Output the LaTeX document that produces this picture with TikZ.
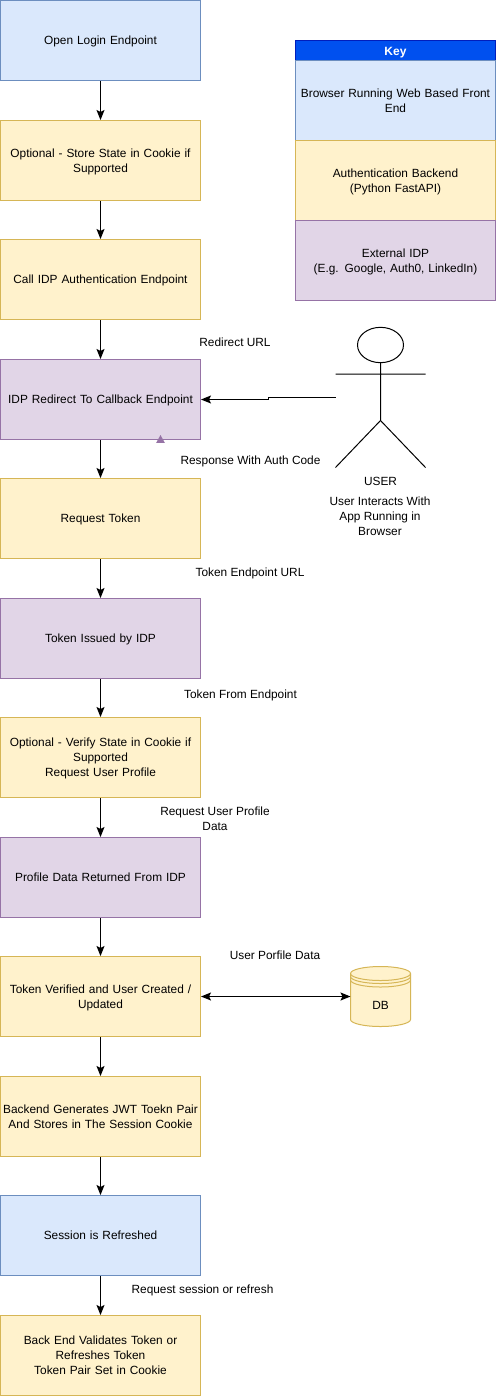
\documentclass[tikz,border=0pt]{standalone}
\usepackage{fontspec}
\setmainfont{Liberation Sans}
\usetikzlibrary{arrows.meta,shapes.geometric}
\definecolor{bluef}{HTML}{DAE8FC}\definecolor{blued}{HTML}{6C8EBF}
\definecolor{yelf}{HTML}{FFF2CC}\definecolor{yeld}{HTML}{D6B656}
\definecolor{purf}{HTML}{E1D5E7}\definecolor{purd}{HTML}{9673A6}
\definecolor{keyf}{HTML}{0050EF}\definecolor{keyd}{HTML}{001DBC}
\tikzset{
 basebox/.style={draw,line width=0.75pt,align=center,font=\fontsize{8.9}{11.25}\selectfont,text width=148pt,inner sep=0pt,minimum width=150pt,minimum height=60pt,execute at begin node={\rule{0pt}{8.4pt}},execute at end node={\rule[-2pt]{0pt}{2pt}}},
 bluebox/.style={basebox,fill=bluef,draw=blued},
 yelbox/.style={basebox,fill=yelf,draw=yeld},
 purbox/.style={basebox,fill=purf,draw=purd},
 keyhead/.style={draw=keyd,fill=keyf,line width=0.75pt,text=white,font=\fontsize{9}{11}\selectfont\bfseries,minimum width=150pt,minimum height=15pt,inner sep=0pt,text height=9pt,text depth=1.5pt},
 lbl/.style={align=center,inner sep=0pt,font=\fontsize{8.9}{11.25}\selectfont},
 flow/.style={line width=0.75pt,-{Stealth[length=7.5pt,width=6pt,inset=1.5pt]}},
 flowb/.style={line width=0.75pt,{Stealth[length=7.5pt,width=6pt,inset=1.5pt]}-{Stealth[length=7.5pt,width=6pt,inset=1.5pt]}},
 actorline/.style={line width=0.75pt,draw=black}
}
\begin{document}
\begin{tikzpicture}[x=0.75pt,y=-0.75pt]
\useasboundingbox (0,0) rectangle (496,1396);
\fill[white] (0,0) rectangle (496,1396);
% flow boxes
\node[bluebox] (n1) at (100.5,40.5) {Open Login Endpoint};
\node[yelbox] (n2) at (100.5,160.5) {Optional - Store State in Cookie if\\Supported};
\node[yelbox] (n3) at (100.5,279.5) {Call IDP Authentication Endpoint};
\node[purbox] (n4) at (100.5,399.5) {IDP Redirect To Callback Endpoint};
\node[yelbox] (n5) at (100.5,518.5) {Request Token};
\node[purbox] (n6) at (100.5,638.5) {Token Issued by IDP};
\node[yelbox] (n7) at (100.5,757.5) {Optional - Verify State in Cookie if\\Supported\\Request User Profile};
\node[purbox] (n8) at (100.5,877.5) {Profile Data Returned From IDP};
\node[yelbox] (n9) at (100.5,996.5) {Token Verified and User Created /\\Updated};
\node[yelbox] (n10) at (100.5,1116.5) {Backend Generates JWT Toekn Pair\\And Stores in The Session Cookie};
\node[bluebox] (n11) at (100.5,1235.5) {Session is Refreshed};
\node[yelbox] (n12) at (100.5,1355.5) {Back End Validates Token or\\Refreshes Token\\Token Pair Set in Cookie};
\foreach \a/\b in {n1/n2,n2/n3,n3/n4,n4/n5,n5/n6,n6/n7,n7/n8,n8/n9,n9/n10,n10/n11,n11/n12}
  \draw[flow] (\a) -- (\b);
% key
\node[keyhead] (kh) at (395.5,50.5) {Key};
\node[bluebox] (k1) at (395.5,100.5) {Browser Running Web Based Front\\End};
\node[yelbox] (k2) at (395.5,180.5) {Authentication Backend\\(Python FastAPI)};
\node[purbox] (k3) at (395.5,260.5) {External IDP\\(E.g. Google, Auth0, LinkedIn)};
% actor
\node[draw=black,line width=0.75pt,ellipse,minimum width=34.5pt,minimum height=26.5pt,inner sep=0pt] (head) at (380.5,345) {};
\coordinate (hip) at (380.5,420.5);
\coordinate (armL) at (335.5,374);
\coordinate (armR) at (425.5,374);
\coordinate (legL) at (335.5,467.5);
\coordinate (legR) at (425.5,467.5);
\coordinate (grip) at (335.5,397.5);
\draw[actorline] (head.south) -- (hip) (armL) -- (armR) (legL) -- (hip) -- (legR);
\draw[flow] (grip) -- (268,397.5) -- (268,399.5) -- (n4.east);
% stray marker
\fill[purd] (160.5,435) -- (164.8,442.8) -- (156.2,442.8) -- cycle;
% DB
\draw[draw=yeld,fill=yelf,line width=0.75pt] (350.5,973.5) -- (350.5,1019.5) arc[start angle=180,end angle=0,x radius=30,y radius=7] -- (410.5,973.5) arc[start angle=0,end angle=-180,x radius=30,y radius=7] -- cycle;
\draw[draw=yeld,line width=0.75pt] (350.5,973.5) arc[start angle=180,end angle=0,x radius=30,y radius=7]
 (350.5,976.5) arc[start angle=180,end angle=0,x radius=30,y radius=7]
 (350.5,980) arc[start angle=180,end angle=0,x radius=30,y radius=7];
\node[lbl] (db) at (380.5,1005) {DB};
\coordinate (dbl) at (350.5,996.5);
\draw[flowb] (n9.east) -- (dbl);
% labels
\node[lbl] (l1) at (235,342) {Redirect URL};
\node[lbl] (l2) at (250.5,461) {Response With Auth Code};
\node[lbl] (l3) at (250,573.5) {Token Endpoint URL};
\node[lbl] (l4) at (240.5,695.5) {Token From Endpoint};
\node[lbl] (l5) at (215,818.5) {Request User Profile\\Data};
\node[lbl] (l6) at (275,955.5) {User Porfile Data};
\node[lbl] (l7) at (202.5,1290.5) {Request session or refresh};
\node[lbl] (l8) at (380.5,481) {USER};
\node[lbl] (l9) at (380,516.5) {User Interacts With\\App Running in\\Browser};
\end{tikzpicture}
\end{document}
